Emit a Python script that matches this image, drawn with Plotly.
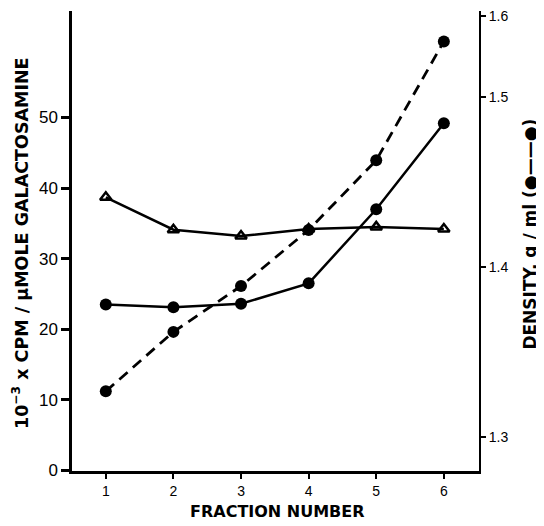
import plotly.graph_objects as go

fraction = [1, 2, 3, 4, 5, 6]
cpm_triangle = [38.7, 34.1, 33.2, 34.2, 34.5, 34.2]
cpm_circle = [23.5, 23.1, 23.6, 26.5, 37.0, 49.2]
density = [1.327, 1.362, 1.389, 1.422, 1.463, 1.533]

left_ticks = [0, 10, 20, 30, 40, 50]
right_tickvals = [1.3, 1.4, 1.5, 1.548]
right_ticktext = ["1.3", "1.4", "1.5", "1.6"]

FONT = "Liberation Sans"
TFONT = "DejaVu Sans"

fig = go.Figure()
fig.add_trace(go.Scatter(
    x=fraction, y=cpm_triangle, mode="lines+markers",
    line=dict(color="black", width=2.5),
    marker=dict(symbol="triangle-up-open", size=10, color="black", line=dict(width=2.5)),
    showlegend=False))
fig.add_trace(go.Scatter(
    x=fraction, y=cpm_circle, mode="lines+markers",
    line=dict(color="black", width=2.5),
    marker=dict(symbol="circle", size=12, color="black"),
    showlegend=False))
fig.add_trace(go.Scatter(
    x=fraction, y=density, mode="lines+markers", yaxis="y2",
    line=dict(color="black", width=2.8, dash="11px,7px"),
    marker=dict(symbol="circle", size=12, color="black"),
    showlegend=False))

fig.update_layout(
    width=536, height=518,
    margin=dict(l=64, r=65, t=0, b=55),
    plot_bgcolor="white", paper_bgcolor="white",
    font=dict(family=FONT, color="black", size=15),
    xaxis=dict(range=[0.5, 6.52], tickvals=fraction, ticktext=[str(v) for v in fraction],
               showline=True, linecolor="black", linewidth=2.5,
               ticks="outside", ticklen=5, tickwidth=2, tickcolor="black",
               showgrid=False, zeroline=False,
               tickfont=dict(size=14, family=FONT)),
    yaxis=dict(range=[-0.1, 65.1], tickvals=left_ticks,
               showline=True, linecolor="black", linewidth=2.5,
               ticks="outside", ticklen=8, tickwidth=2.5, tickcolor="black",
               showgrid=False, zeroline=False,
               tickfont=dict(size=17, family=FONT)),
    yaxis2=dict(range=[1.2801, 1.5509], overlaying="y", side="right",
                tickvals=right_tickvals, ticktext=right_ticktext,
                showline=True, linecolor="black", linewidth=2,
                ticks="outside", ticklen=5, tickwidth=2, tickcolor="black",
                showgrid=False, zeroline=False, ticklabeloverflow="allow",
                tickfont=dict(size=14, family=FONT)),
    annotations=[
        dict(text="<b>10<sup>−3</sup> x CPM / μMOLE GALACTOSAMINE</b>",
             xref="paper", yref="paper", x=-0.126, y=0.495, xanchor="center", yanchor="middle",
             textangle=-90, showarrow=False, font=dict(size=17.5, family=TFONT)),
        dict(text="<b>DENSITY, g / ml (●——●)</b>",
             xref="paper", yref="paper", x=1.123, y=0.514, xanchor="center", yanchor="middle",
             textangle=-90, showarrow=False, font=dict(size=17, family=TFONT)),
        dict(text="<b>FRACTION NUMBER</b>",
             xref="paper", yref="paper", x=0.506, y=-0.088, xanchor="center", yanchor="middle",
             showarrow=False, font=dict(size=16, family=TFONT)),
    ],
)

fig.write_html("out.html")
